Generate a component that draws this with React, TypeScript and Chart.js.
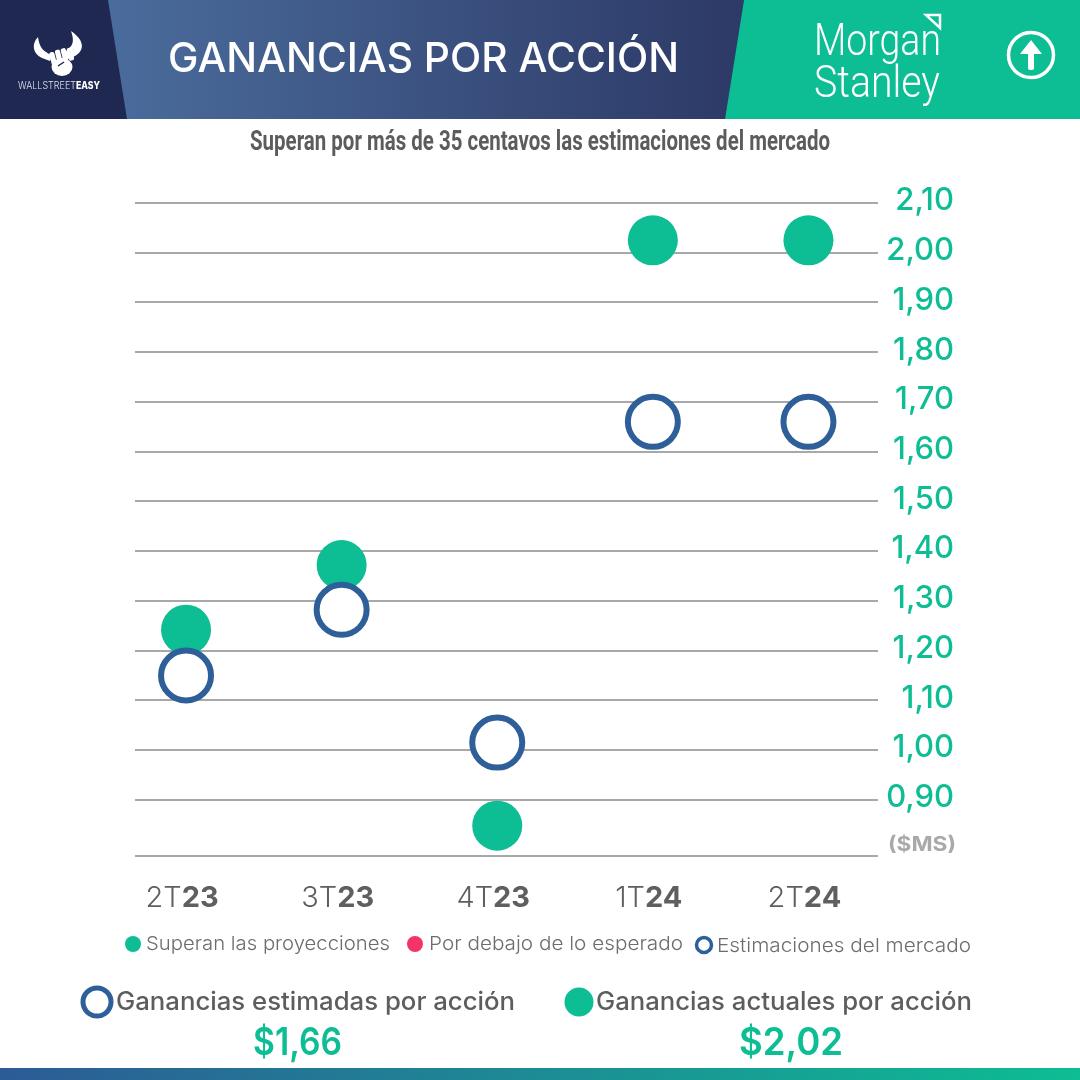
import React, { useEffect, useRef } from "react";
import { Chart, registerables } from "chart.js";

Chart.register(...registerables);

const categories = ["2T23", "3T23", "4T23", "1T24", "2T24"];
const labelLight = ["2T", "3T", "4T", "1T", "2T"];
const labelBold = ["23", "23", "23", "24", "24"];
const estimated = [1.15, 1.282, 1.015, 1.66, 1.66];
const actual = [1.242, 1.372, 0.848, 2.025, 2.025];
const yTickValues = [2.1, 2.0, 1.9, 1.8, 1.7, 1.6, 1.5, 1.4, 1.3, 1.2, 1.1, 1.0, 0.9, 0.787];
const yTickLabels = ["2,10", "2,00", "1,90", "1,80", "1,70", "1,60", "1,50", "1,40", "1,30", "1,20", "1,10", "1,00", "0,90", ""];

const GREEN = "#0dbd93";
const BLUE = "#2f5f98";
const FONT = "Inter";

const xLabelsPlugin = {
  id: "xLabels",
  afterDraw(chart: any) {
    const { ctx, scales } = chart;
    ctx.save();
    ctx.textBaseline = "alphabetic";
    ctx.textAlign = "left";
    categories.forEach((_, i) => {
      const cx = scales.x.getPixelForValue(i) - 4;
      ctx.font = `300 29px ${FONT}`;
      const a = ctx.measureText(labelLight[i]).width;
      ctx.font = `700 29px ${FONT}`;
      const b = ctx.measureText(labelBold[i]).width;
      const left = cx - (a + b) / 2;
      ctx.fillStyle = "#5f5f5f";
      ctx.font = `300 29px ${FONT}`;
      ctx.fillText(labelLight[i], left, 907);
      ctx.font = `700 29px ${FONT}`;
      ctx.fillText(labelBold[i], left + a, 907);
    });
    ctx.restore();
  },
};

function Overlay() {
  const txt = (s: string, x: number, y: number, w: number, size: number, weight: number, fill: string, family = FONT) => (
    <text x={x} y={y} textLength={w} lengthAdjust="spacingAndGlyphs" fontSize={size} fontWeight={weight} fill={fill} fontFamily={family}>
      {s}
    </text>
  );
  return (
    <svg width={1080} height={1080} style={{ position: "absolute", left: 0, top: 0 }}>
      <defs>
        <linearGradient id="hdr" x1="0" x2="1" y1="0" y2="0">
          <stop offset="0" stopColor="#4a6c9c" />
          <stop offset="1" stopColor="#2d3966" />
        </linearGradient>
        <linearGradient id="bar" x1="0" x2="1" y1="0" y2="0">
          <stop offset="0" stopColor="#2c5b96" />
          <stop offset="1" stopColor={GREEN} />
        </linearGradient>
      </defs>
      <rect x={0} y={0} width={1080} height={119} fill="#1f2850" />
      <polygon points="108,0 744,0 725,119 127,119" fill="url(#hdr)" />
      <polygon points="744,0 1080,0 1080,119 725,119" fill={GREEN} />
      <rect x={0} y={1068} width={1080} height={12} fill="url(#bar)" />

      {/* bull logo */}
      <path d="M38 37 C31 44 33 54 42 58 L50 61 L52 56 L46 52 C41 49 39 44 38 37 Z" fill="#fff" />
      <path d="M71 31 C74 40 74 45 67 50 L64 54 L68 59 C85 54 87 42 71 31 Z" fill="#fff" />
      <ellipse cx={62} cy={67} rx={10.5} ry={9} fill="#fff" />
      <g transform="rotate(-14 61 56)">
        <rect x={50} y={50} width={5.2} height={13} rx={2} fill="#fff" />
        <rect x={56} y={49} width={5.2} height={14} rx={2} fill="#fff" />
        <rect x={62} y={49} width={5.2} height={14} rx={2} fill="#fff" />
        <rect x={68} y={50} width={5.2} height={13} rx={2} fill="#fff" />
      </g>
      <path d="M58 66 L64 62" stroke="#1f2850" strokeWidth={1.5} />
      {txt("WALLSTREET", 18, 89, 58, 10, 300, "#dfe3ee")}
      {txt("EASY", 76, 89, 24, 10, 800, "#ffffff")}

      {txt("GANANCIAS POR ACCIÓN", 168, 72, 511, 41, 500, "#ffffff")}

      {txt("Morgan", 814, 55, 127, 45, 300, "#ffffff", "Roboto")}
      {txt("Stanley", 814, 97, 126, 45, 300, "#ffffff", "Roboto")}
      <polygon points="926,15 940,15 940,28" fill="none" stroke="#fff" strokeWidth={2.5} />

      <circle cx={1031} cy={55} r={22.5} fill="none" stroke="#fff" strokeWidth={3.5} />
      <polygon points="1031,40 1042,54 1020,54" fill="#fff" />
      <rect x={1028} y={50} width={6} height={20} rx={2} fill="#fff" />

      {txt("Superan por más de 35 centavos las estimaciones del mercado", 250, 150, 580, 27, 700, "#5c5c5c", "Roboto")}

      {txt("($MS)", 888, 851, 68, 20, 700, "#a9a9a9")}

      {/* legend */}
      <circle cx={133} cy={944} r={8} fill={GREEN} />
      {txt("Superan las proyecciones", 146, 950, 244, 19, 300, "#6d6d6d")}
      <circle cx={415} cy={944} r={8} fill="#f5336b" />
      {txt("Por debajo de lo esperado", 429, 950, 254, 19, 300, "#6d6d6d")}
      <circle cx={704} cy={945} r={7.5} fill="#fff" stroke={BLUE} strokeWidth={3.5} />
      {txt("Estimaciones del mercado", 717, 952, 254, 19, 300, "#6d6d6d")}

      {/* footer stats */}
      <circle cx={97} cy={1002} r={14} fill="#fff" stroke={BLUE} strokeWidth={5} />
      {txt("Ganancias estimadas por acción", 116, 1010, 399, 25, 500, "#5d5d5d")}
      <circle cx={579} cy={1002} r={14.5} fill={GREEN} />
      {txt("Ganancias actuales por acción", 596, 1010, 376, 25, 500, "#5d5d5d")}
      {txt("$1,66", 253, 1055, 89, 38, 600, GREEN)}
      {txt("$2,02", 739, 1055, 104, 38, 600, GREEN)}
    </svg>
  );
}

export default function App() {
  const ref = useRef<HTMLCanvasElement>(null);
  useEffect(() => {
    const chart = new Chart(ref.current!, {
      type: "scatter",
      data: {
        datasets: [
          {
            label: "Estimaciones del mercado",
            data: estimated.map((y, x) => ({ x, y })),
            pointRadius: 25,
            pointBorderWidth: 6,
            pointBackgroundColor: "#ffffff",
            pointBorderColor: BLUE,
            order: 1,
          },
          {
            label: "Ganancias actuales",
            data: actual.map((y, x) => ({ x, y })),
            pointRadius: 25,
            pointBorderWidth: 0,
            pointBackgroundColor: GREEN,
            pointBorderColor: GREEN,
            order: 2,
          },
        ],
      },
      options: {
        animation: false,
        responsive: false,
        devicePixelRatio: 1,
        layout: { padding: { left: 135, top: 203, right: 126, bottom: 0 } },
        plugins: { legend: { display: false }, tooltip: { enabled: false } },
        scales: {
          x: {
            type: "linear",
            min: -0.328,
            max: 4.447,
            grid: { display: false },
            border: { display: false },
            ticks: { display: false },
            afterFit(s: any) {
              s.height = 224;
            },
          },
          y: {
            type: "linear",
            position: "right",
            min: 0.787,
            max: 2.1,
            grid: { color: "#a8a8a8", lineWidth: 2, drawTicks: false },
            border: { display: false },
            afterBuildTicks(s: any) {
              s.ticks = yTickValues.map((value) => ({ value }));
            },
            afterFit(s: any) {
              s.width = 76;
            },
            ticks: {
              autoSkip: false,
              crossAlign: "far",
              padding: 0,
              labelOffset: -2,
              color: GREEN,
              font: { family: FONT, size: 31, weight: 500 },
              callback: (v: any) => yTickLabels[yTickValues.indexOf(Number(v))] ?? "",
            },
          },
        },
      },
      plugins: [xLabelsPlugin],
    } as any);
    return () => chart.destroy();
  }, []);
  return (
    <div style={{ position: "absolute", left: 0, top: 0, width: 1080, height: 1080, background: "#fff", overflow: "hidden" }}>
      <canvas ref={ref} width={1080} height={1080} style={{ display: "block", position: "absolute", left: 0, top: 0 }} />
      <Overlay />
    </div>
  );
}
